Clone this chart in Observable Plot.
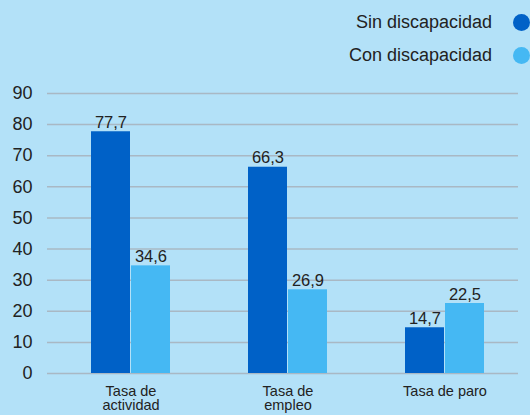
<!DOCTYPE html>
<html>
<head>
<meta charset="utf-8">
<script src="https://cdn.jsdelivr.net/npm/d3@7"></script>
<script src="https://cdn.jsdelivr.net/npm/@observablehq/plot@0.6"></script>
<style>
  html, body { margin: 0; padding: 0; background: #b3e1f8; }
  #wrap { position: relative; width: 530px; height: 415px; overflow: hidden; font-family: "Liberation Sans", Arial, sans-serif; }
  #chart { position: absolute; left: 0; top: 0; }
  .leg { position: absolute; right: 0; height: 20px; display: flex; align-items: center; font-size: 18px; color: #222; }
  .leg span.dot { display: inline-block; width: 17px; height: 17px; border-radius: 50%; margin-left: 21px; margin-right: 0px; }
</style>
</head>
<body>
<div id="wrap">
  <div id="chart"></div>
  <div class="leg" style="top:12px; right:0px;"><span>Sin discapacidad</span><span class="dot" style="background:#0061c7"></span></div>
  <div class="leg" style="top:45px; right:0px;"><span>Con discapacidad</span><span class="dot" style="background:#45b8f3"></span></div>
</div>
<script>
const categories = ["Tasa de actividad", "Tasa de empleo", "Tasa de paro"];
const tickLabels = ["Tasa de\nactividad", "Tasa de\nempleo", "Tasa de paro"];
const series = ["Sin discapacidad", "Con discapacidad"];
const sinValues = [77.7, 66.3, 14.7];
const conValues = [34.6, 26.9, 22.5];
const yTicks = [0, 10, 20, 30, 40, 50, 60, 70, 80, 90];

const sinData = categories.map((c, i) => ({cat: c, v: sinValues[i]}));
const conData = categories.map((c, i) => ({cat: c, v: conValues[i]}));
const fmt = v => v.toFixed(1).replace(".", ",");

const chart = Plot.plot({
  width: 530,
  height: 415,
  marginLeft: 47,
  marginRight: 1,
  marginTop: 93,
  marginBottom: 42,
  style: {background: "transparent", fontFamily: "Liberation Sans, Arial, sans-serif", color: "#222"},
  x: {domain: categories, paddingInner: 0.4937, paddingOuter: 0.2722},
  y: {domain: [0, 90]},
  marks: [
    Plot.ruleY(yTicks, {stroke: "#a9b8c4", strokeWidth: 1.5, insetRight: 11}),
    Plot.barY(sinData, {x: "cat", y: "v", fill: "#0061c7", insetRight: 40}),
    Plot.barY(conData, {x: "cat", y: "v", fill: "#45b8f3", insetLeft: 40}),
    Plot.text(sinData, {x: "cat", y: "v", text: d => fmt(d.v), dx: -20, dy: -4, lineAnchor: "bottom", fontSize: 16.5, fill: "#222"}),
    Plot.text(conData, {x: "cat", y: "v", text: d => fmt(d.v), dx: 20, dy: -4, lineAnchor: "bottom", fontSize: 16.5, fill: "#222"}),
    Plot.axisY({ticks: yTicks, tickSize: 0, tickPadding: 15, fontSize: 18, label: null, color: "#222"}),
    Plot.axisX({tickSize: 0, tickPadding: 12, fontSize: 14.5, lineHeight: 1, label: null, color: "#222",
      tickFormat: d => tickLabels[categories.indexOf(d)]})
  ]
});
document.getElementById("chart").appendChild(chart);
</script>
</body>
</html>
